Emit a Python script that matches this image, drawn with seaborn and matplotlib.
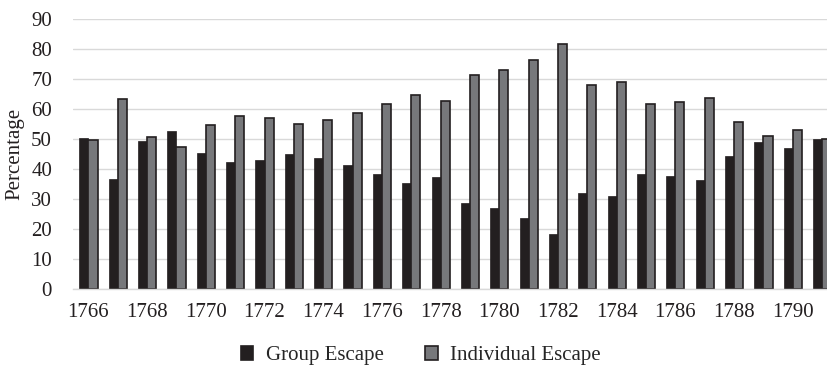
import matplotlib
matplotlib.use("Agg")
import matplotlib.pyplot as plt
import seaborn as sns
import pandas as pd

# data
years = list(range(1766, 1792))
group_escape = [50.4, 36.7, 49.4, 52.6, 45.4, 42.4, 43.0, 45.0, 43.7, 41.4,
                38.4, 35.4, 37.4, 28.7, 27.1, 23.7, 18.4, 32.1, 31.1, 38.4,
                37.7, 36.4, 44.4, 49.0, 47.0, 49.9]
individual_escape = [49.7, 63.5, 50.8, 47.4, 54.8, 57.7, 57.0, 55.0, 56.4, 58.6,
                     61.7, 64.6, 62.7, 71.4, 73.0, 76.3, 81.8, 68.0, 69.0, 61.7,
                     62.4, 63.6, 55.6, 51.0, 52.9, 50.1]
series_names = ["Group Escape", "Individual Escape"]
y_ticks = [0, 10, 20, 30, 40, 50, 60, 70, 80, 90]

df = pd.DataFrame({
    "year": years * 2,
    "value": group_escape + individual_escape,
    "series": [series_names[0]] * len(years) + [series_names[1]] * len(years),
})

sns.set_theme(style="white")
plt.rcParams["font.family"] = ["Liberation Serif", "DejaVu Serif"]

fig = plt.figure(figsize=(8.28, 3.7), dpi=100)
ax = fig.add_axes([0.088, 0.218, 0.912, 0.7306])

palette = {"Group Escape": "#231f20", "Individual Escape": "#77787b"}
sns.barplot(data=df, x="year", y="value", hue="series", palette=palette,
            width=0.62, gap=0, saturation=1, ax=ax, legend=True)

# black outline on the grey bars only
for bar in ax.containers[1]:
    bar.set_edgecolor("#231f20")
    bar.set_linewidth(1.2)
for bar in ax.containers[0]:
    bar.set_edgecolor("#231f20")
    bar.set_linewidth(0.5)

fs = 15
ax.set_ylim(0, 90)
ax.set_xlim(-0.53, 25.2)
ax.set_yticks(y_ticks)
ax.set_yticklabels([str(t) for t in y_ticks], fontsize=fs)
ax.set_xticks(range(0, len(years), 2))
ax.set_xticklabels([str(y) for y in years[::2]], fontsize=fs)
ax.tick_params(axis="both", length=0, colors="#231f20")
ax.tick_params(axis="x", pad=10)
ax.tick_params(axis="y", pad=15)
ax.yaxis.grid(True, color="#d9d9d9", linewidth=1)
ax.set_axisbelow(True)
for s in ["top", "right", "left"]:
    ax.spines[s].set_visible(False)
ax.spines["bottom"].set_color("#d9d9d9")
ax.spines["bottom"].set_linewidth(1)
ax.set_xlabel("")
ax.set_ylabel("Percentage", fontsize=fs, color="#231f20", labelpad=5)

handles, labels = ax.get_legend_handles_labels()
ax.get_legend().remove()
leg = fig.legend(handles, labels, loc="center", bbox_to_anchor=(0.508, 0.038), ncol=2,
                 frameon=False, fontsize=fs, handlelength=0.6, handleheight=0.6,
                 handletextpad=0.6, columnspacing=2.0)
for h in leg.legend_handles:
    h.set_edgecolor("#231f20")
    h.set_linewidth(1.2)

fig.savefig("out.png", dpi=100)
